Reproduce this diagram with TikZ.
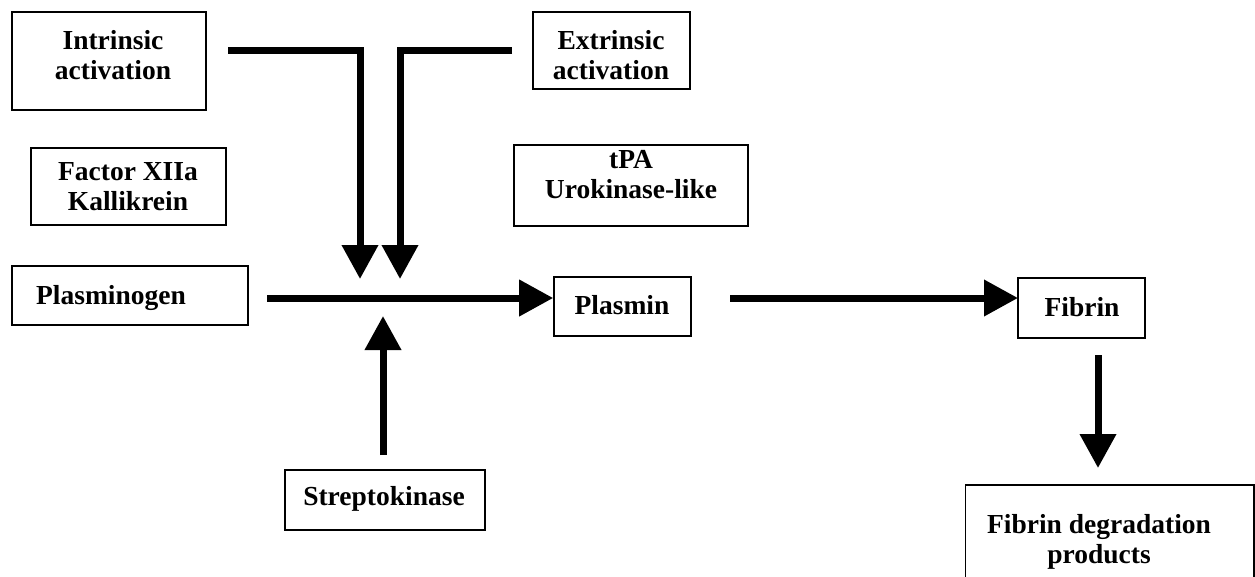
\documentclass[tikz,border=0pt]{standalone}
\usepackage{fontspec}
\setmainfont{Liberation Serif}
\usetikzlibrary{arrows.meta}
\begin{document}
\begin{tikzpicture}[x=1pt,y=-1pt,
  box/.style={draw,line width=1.6pt},
  openbox/.style={line width=1.6pt},
  lbl/.style={font=\fontsize{27.5}{30}\selectfont\bfseries,align=center,inner sep=0pt},
  flow/.style={line width=7pt,-{Triangle[length=34pt,width=35pt]}}]
\useasboundingbox (0,0) rectangle (1255,576);
% boxes
\node[box,minimum width=194pt,minimum height=98pt] (intr) at (109,61) {};
\node[box,minimum width=157pt,minimum height=77pt] (extr) at (611.5,50.5) {};
\node[box,minimum width=195pt,minimum height=77pt] (fact) at (128.5,186.5) {};
\node[box,minimum width=234pt,minimum height=81pt] (tpa) at (631,185.5) {};
\node[box,minimum width=236pt,minimum height=59pt] (plg) at (130,295.5) {};
\node[box,minimum width=137pt,minimum height=59pt] (pls) at (622.5,306.5) {};
\node[box,minimum width=127pt,minimum height=60pt] (fib) at (1081.5,308) {};
\node[minimum width=288pt,minimum height=96pt,inner sep=0pt] (fdp) at (1109.5,533) {};
\draw[openbox] (fdp.south west) -- (fdp.north west) -- (fdp.north east) -- (fdp.south east);
\node[box,minimum width=200pt,minimum height=60pt] (stk) at (385,500) {};
% texts
\node[lbl] (tintr) at (113,55) {Intrinsic\\activation};
\node[lbl] (textr) at (611,55) {Extrinsic\\activation};
\node[lbl] (tfact) at (128,187) {Factor XIIa\\Kallikrein};
\node[lbl] (ttpa) at (631,175) {tPA\\Urokinase-like};
\node[lbl] (tplg) at (111,298) {Plasminogen};
\node[lbl] (tpls) at (622,305) {Plasmin};
\node[lbl] (tfib) at (1082,307) {Fibrin};
\node[lbl] (tfdp) at (1099,542) {Fibrin degradation\\products};
\node[lbl] (tstk) at (384,499) {Streptokinase};
% connector points
\coordinate (i0) at (228,50);
\coordinate (i1) at (360,50);
\coordinate (i2) at (360,279);
\coordinate (e0) at (512,50);
\coordinate (e1) at (400,50);
\coordinate (e2) at (400,279);
\coordinate (h0) at (267,298);
\coordinate (s0) at (383,455);
\coordinate (s1) at (383,316);
\coordinate (p0) at (730,298);
\coordinate (p1) at (1018,298);
\coordinate (f0) at (1098,355);
\coordinate (f1) at (1098,468);
% connectors
\draw[flow] (i0) -- (i1) -- (i2);
\draw[flow] (e0) -- (e1) -- (e2);
\draw[flow] (h0) -- (h0 -| pls.west);
\draw[flow] (s0) -- (s1);
\draw[flow] (p0) -- (p1);
\draw[flow] (f0) -- (f1);
\end{tikzpicture}
\end{document}
